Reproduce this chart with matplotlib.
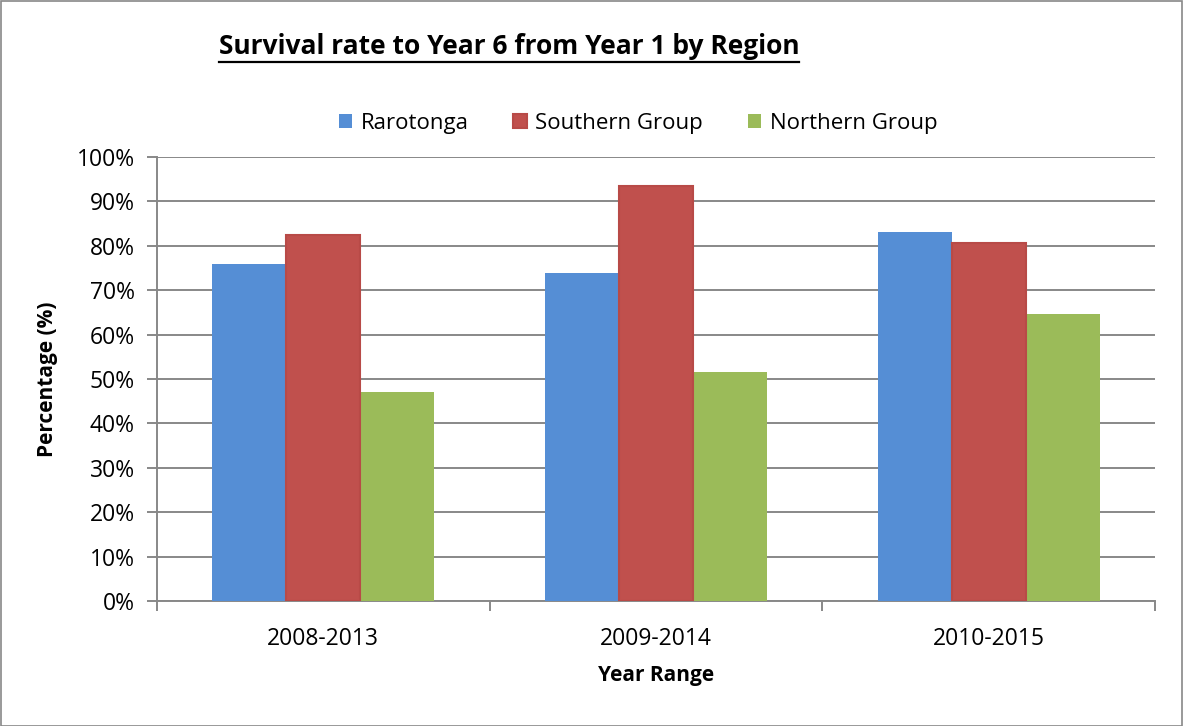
import matplotlib
matplotlib.use("Agg")
import matplotlib.pyplot as plt
import numpy as np
from matplotlib.lines import Line2D
from matplotlib.patches import Rectangle
from matplotlib.ticker import PercentFormatter

categories = ["2008-2013", "2009-2014", "2010-2015"]
series_names = ["Rarotonga", "Southern Group", "Northern Group"]
rarotonga = [76.0, 73.8, 83.2]
southern = [82.4, 93.5, 80.6]
northern = [47.1, 51.6, 64.7]
colors = ["#558ED5", "#C0504D", "#9BBB59"]

plt.rcParams['font.family'] = ['Open Sans', 'DejaVu Sans']

W, H = 1183, 726
fig = plt.figure(figsize=(W / 100, H / 100), dpi=100)
ax = fig.add_axes([157 / W, 1 - 601 / H, (1155 - 157) / W, (601 - 157) / H])

x = np.arange(len(categories))
w = 1 / 4.5
vals = [rarotonga, southern, northern]
for i, (name, v, c) in enumerate(zip(series_names, vals, colors)):
    ec = "#B84A47" if i == 1 else c
    lw = 1.5 if i == 1 else 0
    ax.bar(x + (i - 1) * w, v, width=w, color=c, edgecolor=ec, linewidth=lw,
           label=name, zorder=3 if i != 1 else 4)

ax.set_xlim(-0.5, 2.5)
ax.set_ylim(0, 100)
ax.set_yticks(np.arange(0, 101, 10))
ax.yaxis.set_major_formatter(PercentFormatter(decimals=0))
ax.grid(axis='y', color='#888888', linewidth=1.4, zorder=0)
ax.set_xticks(x)
ax.set_xticklabels(categories)
ax.set_xticks([-0.5, 0.5, 1.5, 2.5], minor=True)
ax.tick_params(axis='x', which='major', length=0, pad=19, labelsize=16.5)
ax.tick_params(axis='x', which='minor', length=7, color='#888888', width=1.4)
ax.tick_params(axis='y', length=7, color='#888888', width=1.4, labelsize=16.5, pad=9)
for s in ['top', 'right']:
    ax.spines[s].set_visible(False)
for s in ['left', 'bottom']:
    ax.spines[s].set_color('#888888')
    ax.spines[s].set_linewidth(1.4)

ax.set_ylabel("Percentage (%)", fontsize=15, fontweight='bold')
ax.yaxis.set_label_coords((48 - 157) / (1155 - 157), 0.5)
ax.yaxis.label.set_va('center')
ax.set_xlabel("Year Range", fontsize=15, fontweight='bold')
ax.xaxis.set_label_coords((656 - 157) / (1155 - 157), (601 - 676) / (601 - 157))
ax.xaxis.label.set_va('center')

t = fig.text(509 / W, 1 - 47 / H, "Survival rate to Year 6 from Year 1 by Region",
             ha='center', va='center', fontsize=19, fontweight='bold')
fig.canvas.draw()
bb = t.get_window_extent()
fig.add_artist(Line2D([bb.x0 / W, bb.x1 / W], [(bb.y0 - 1) / H, (bb.y0 - 1) / H],
                      color='black', linewidth=1.6, transform=fig.transFigure))

leg = ax.legend(loc='center', bbox_to_anchor=(638 / W, 1 - 123 / H),
                bbox_transform=fig.transFigure, ncol=3, frameon=False,
                fontsize=16, handlelength=0.6, handleheight=0.6,
                handletextpad=0.4, columnspacing=2.0)

fig.add_artist(Rectangle((0.5 / W, 0.5 / H), (W - 1.5) / W, (H - 1.5) / H,
                         transform=fig.transFigure, fill=False,
                         edgecolor='#888888', linewidth=1.2))

fig.savefig("out.png", dpi=100)
